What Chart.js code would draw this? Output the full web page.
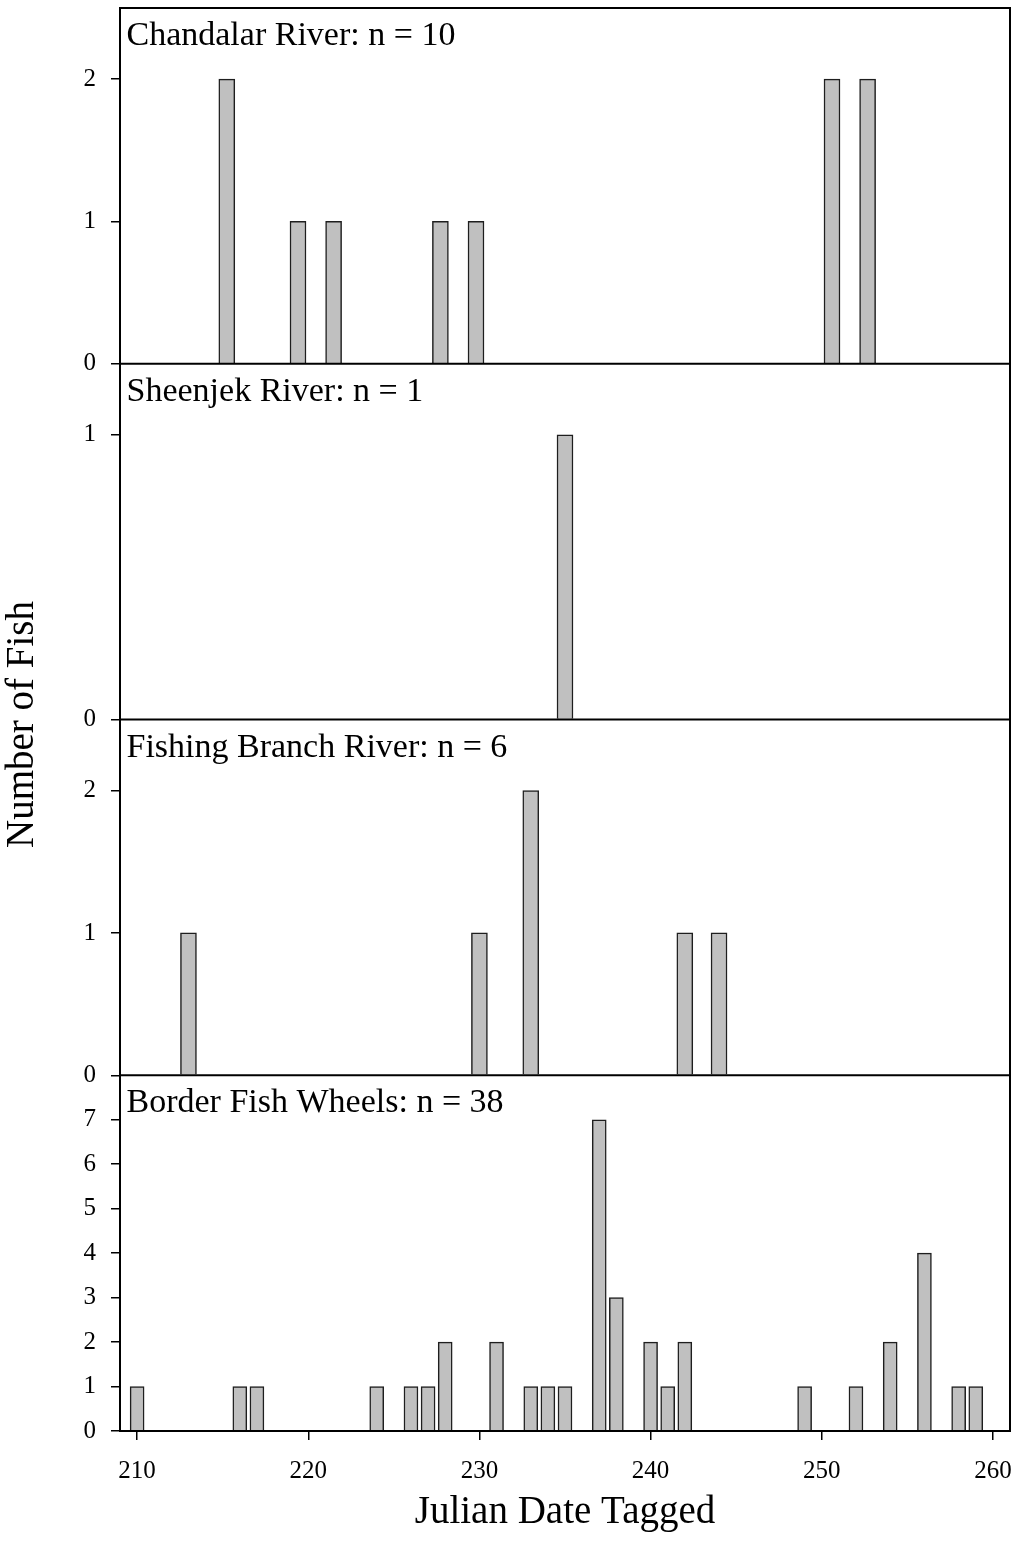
<!DOCTYPE html>
<html>
<head>
<meta charset="utf-8">
<script src="https://cdn.jsdelivr.net/npm/chart.js@4.4.0/dist/chart.umd.min.js"></script>
<style>
  body { margin: 0; background: #fff; }
</style>
</head>
<body>
<canvas id="fishChart" width="1018" height="1558"></canvas>
<script>
const xTicks = [210, 220, 230, 240, 250, 260];

const chandalarDays = [216, 220, 222, 228, 230, 250, 252];
const chandalarFish = [2, 1, 1, 1, 1, 2, 2];

const sheenjekDays = [235];
const sheenjekFish = [1];

const fishingDays = [213, 230, 233, 242, 244];
const fishingFish = [1, 1, 2, 1, 1];

const borderDays = [210, 216, 217, 224, 226, 227, 228, 231, 233, 234, 235, 237, 238, 240, 241, 242, 249, 252, 254, 256, 258, 259];
const borderFish = [1, 1, 1, 1, 1, 1, 2, 2, 1, 1, 1, 7, 3, 2, 1, 2, 1, 1, 2, 4, 1, 1];

const panelNames = ['Chandalar River', 'Sheenjek River', 'Fishing Branch River', 'Border Fish Wheels'];
const panelCounts = [chandalarFish, sheenjekFish, fishingFish, borderFish];
const yTickSets = [[0, 1, 2], [0, 1], [0, 1, 2], [0, 1, 2, 3, 4, 5, 6, 7]];

const serif = "'Liberation Serif', 'Times New Roman', serif";

function toPoints(days, counts) {
    return days.map((d, i) => ({ x: d, y: counts[i] }));
}

// one y axis per panel, stacked on the left side
function panelAxis(max, ticks, weight) {
    return {
        type: 'linear',
        position: 'left',
        stack: 'panels',
        stackWeight: 1,
        weight: weight,
        min: 0,
        max: max,
        offset: false,
        grid: { drawOnChartArea: false, drawTicks: true, tickLength: 9, color: '#000', lineWidth: 1.5, offset: false },
        border: { display: false },
        ticks: { color: '#000', font: { family: serif, size: 25 }, padding: 15, autoSkip: false },
        afterBuildTicks: s => { s.ticks = ticks.map(v => ({ value: v })); },
        afterFit: s => { s.width = 120; s.paddingTop = 0; s.paddingBottom = 0; }
    };
}

function barSet(days, counts, xId, yId, thickness) {
    return {
        data: toPoints(days, counts),
        xAxisID: xId,
        yAxisID: yId,
        backgroundColor: '#c0c0c0',
        borderColor: '#1e1e1e',
        borderWidth: 1.5,
        barThickness: thickness,
        grouped: false
    };
}

// frame, panel separators, panel labels and y title
const panelFrame = {
    id: 'panelFrame',
    afterDatasetsDraw(chart) {
        const { ctx, chartArea: a, scales } = chart;
        ctx.save();
        ctx.strokeStyle = '#000';
        ctx.lineWidth = 2;
        ctx.strokeRect(a.left, a.top, a.right - a.left, a.bottom - a.top);
        ['y1', 'y2', 'y3'].forEach(id => {
            ctx.beginPath();
            ctx.moveTo(a.left, scales[id].bottom);
            ctx.lineTo(a.right, scales[id].bottom);
            ctx.stroke();
        });
        ctx.fillStyle = '#000';
        ctx.font = '34px ' + serif;
        ctx.textAlign = 'left';
        ctx.textBaseline = 'alphabetic';
        panelNames.forEach((name, i) => {
            const n = panelCounts[i].reduce((s, v) => s + v, 0);
            ctx.fillText(name + ': n = ' + n, a.left + 6.5, scales['y' + (i + 1)].top + 37);
        });
        ctx.translate(33, (a.top + a.bottom) / 2 + 5);
        ctx.rotate(-Math.PI / 2);
        ctx.font = '39px ' + serif;
        ctx.textAlign = 'center';
        ctx.fillText('Number of Fish', 0, 0);
        ctx.restore();
    }
};

new Chart(document.getElementById('fishChart'), {
    type: 'bar',
    data: {
        datasets: [
            barSet(chandalarDays, chandalarFish, 'xTop', 'y1', 16),
            barSet(sheenjekDays, sheenjekFish, 'x', 'y2', 16),
            barSet(fishingDays, fishingFish, 'x', 'y3', 16),
            barSet(borderDays, borderFish, 'x', 'y4', 14)
        ]
    },
    options: {
        responsive: false,
        animation: false,
        layout: { padding: { top: 8, right: 8, bottom: 0, left: 0 } },
        plugins: { legend: { display: false }, tooltip: { enabled: false } },
        scales: {
            x: {
                type: 'linear',
                position: 'bottom',
                min: 209,
                max: 261,
                offset: false,
                grid: { drawOnChartArea: false, drawTicks: true, tickLength: 9, color: '#000', lineWidth: 1.5, offset: false },
                border: { display: false },
                ticks: { color: '#000', font: { family: serif, size: 25 }, padding: 16, maxRotation: 0, autoSkip: false },
                title: {
                    display: true,
                    text: 'Julian Date Tagged',
                    color: '#000',
                    font: { family: serif, size: 39 },
                    padding: { top: 0, bottom: 22 }
                },
                afterBuildTicks: s => { s.ticks = xTicks.map(v => ({ value: v })); },
                afterFit: s => { s.height = 127; s.paddingLeft = 0; s.paddingRight = 0; }
            },
            xTop: {
                type: 'linear',
                position: 'top',
                display: false,
                offset: false,
                grid: { offset: false },
                min: 210,
                max: 260
            },
            y1: panelAxis(2.5, yTickSets[0], 4),
            y2: panelAxis(1.25, yTickSets[1], 3),
            y3: panelAxis(2.5, yTickSets[2], 2),
            y4: panelAxis(8, yTickSets[3], 1)
        }
    },
    plugins: [panelFrame]
});
</script>
</body>
</html>
